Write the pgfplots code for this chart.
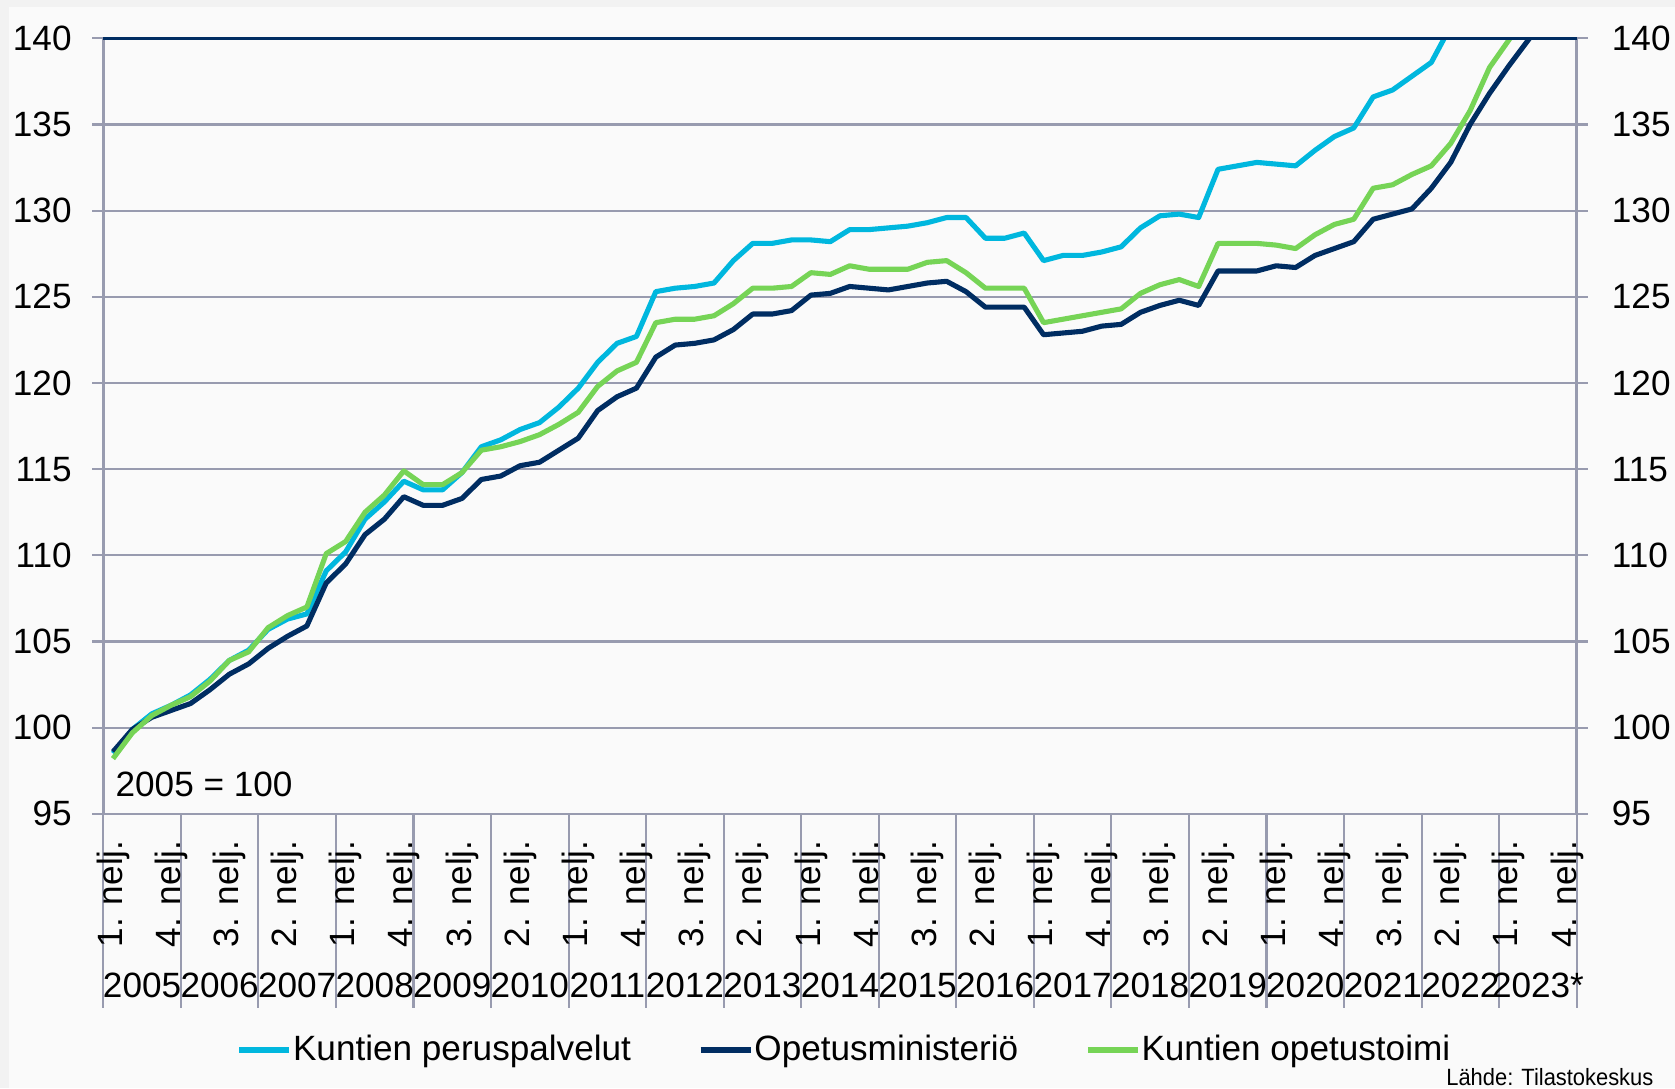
\documentclass[border=0pt]{standalone}
\usepackage{fontspec}
\setmainfont{Liberation Sans}
\usepackage{graphicx}
\usepackage{pgfplots}
\usepackage{pgfplotstable}
\pgfplotsset{compat=1.18}
\definecolor{cyanS}{RGB}{0,183,222}
\definecolor{navyS}{RGB}{0,45,98}
\definecolor{greenS}{RGB}{118,212,86}
\definecolor{gridc}{RGB}{152,155,175}
\definecolor{bgout}{RGB}{242,242,242}
\definecolor{bgin}{RGB}{250,250,250}

\pgfplotstableread{
i v
0 98.5
1 99.9
2 100.8
3 101.3
4 101.9
5 102.8
6 103.9
7 104.5
8 105.7
9 106.3
10 106.6
11 109.1
12 110.2
13 112.1
14 113.1
15 114.3
16 113.8
17 113.8
18 114.8
19 116.3
20 116.7
21 117.3
22 117.7
23 118.6
24 119.7
25 121.2
26 122.3
27 122.7
28 125.3
29 125.5
30 125.6
31 125.8
32 127.1
33 128.1
34 128.1
35 128.3
36 128.3
37 128.2
38 128.9
39 128.9
40 129.0
41 129.1
42 129.3
43 129.6
44 129.6
45 128.4
46 128.4
47 128.7
48 127.1
49 127.4
50 127.4
51 127.6
52 127.9
53 129.0
54 129.7
55 129.8
56 129.6
57 132.4
58 132.6
59 132.8
60 132.7
61 132.6
62 133.5
63 134.3
64 134.8
65 136.6
66 137.0
67 137.8
68 138.6
69 140.7
}\peru

\pgfplotstableread{
i v
0 98.6
1 99.9
2 100.6
3 101.0
4 101.4
5 102.2
6 103.1
7 103.7
8 104.6
9 105.3
10 105.9
11 108.4
12 109.5
13 111.2
14 112.1
15 113.4
16 112.9
17 112.9
18 113.3
19 114.4
20 114.6
21 115.2
22 115.4
23 116.1
24 116.8
25 118.4
26 119.2
27 119.7
28 121.5
29 122.2
30 122.3
31 122.5
32 123.1
33 124.0
34 124.0
35 124.2
36 125.1
37 125.2
38 125.6
39 125.5
40 125.4
41 125.6
42 125.8
43 125.9
44 125.3
45 124.4
46 124.4
47 124.4
48 122.8
49 122.9
50 123.0
51 123.3
52 123.4
53 124.1
54 124.5
55 124.8
56 124.5
57 126.5
58 126.5
59 126.5
60 126.8
61 126.7
62 127.4
63 127.8
64 128.2
65 129.5
66 129.8
67 130.1
68 131.3
69 132.8
70 135.0
71 136.8
72 138.4
73 139.9
74 141.4
}\opm

\pgfplotstableread{
i v
0 98.2
1 99.7
2 100.7
3 101.3
4 101.8
5 102.7
6 103.9
7 104.4
8 105.8
9 106.5
10 107.0
11 110.1
12 110.8
13 112.5
14 113.5
15 114.9
16 114.1
17 114.1
18 114.8
19 116.1
20 116.3
21 116.6
22 117.0
23 117.6
24 118.3
25 119.8
26 120.7
27 121.2
28 123.5
29 123.7
30 123.7
31 123.9
32 124.6
33 125.5
34 125.5
35 125.6
36 126.4
37 126.3
38 126.8
39 126.6
40 126.6
41 126.6
42 127.0
43 127.1
44 126.4
45 125.5
46 125.5
47 125.5
48 123.5
49 123.7
50 123.9
51 124.1
52 124.3
53 125.2
54 125.7
55 126.0
56 125.6
57 128.1
58 128.1
59 128.1
60 128.0
61 127.8
62 128.6
63 129.2
64 129.5
65 131.3
66 131.5
67 132.1
68 132.6
69 133.9
70 135.8
71 138.3
72 139.9
73 141.5
}\opet

\pgfplotsset{
  base/.style={
    at={(1.033cm,2.742cm)}, anchor=south west, scale only axis,
    width=14.734cm, height=7.755cm,
    xmin=-0.5, xmax=75.5, ymin=95, ymax=140,
    /pgf/number format/assume math mode=true,
    tick label style={font=\fontsize{10}{12}\selectfont},
  },
}

\begin{document}
\begin{tikzpicture}
\useasboundingbox (0,0) rectangle (16.75,10.88);
\fill[bgout] (0,0) rectangle (16.75,10.88);
\fill[bgin] (0.09,0) rectangle (16.75,10.81);

% main axis: data, grid, tick marks
\begin{axis}[base,
  axis line style={gridc, line width=0.7pt},
  ytick={95,100,...,140}, yticklabels={},
  ymajorgrids, grid style={gridc, line width=0.6pt},
  tick align=outside, ytick pos=both, xtick pos=bottom,
  major tick length=0.11cm, tick style={gridc, line width=0.6pt},
  xtick=\empty,
  minor xtick={-0.5,0.5,...,75.5}, minor tick length=1.31cm,
  minor tick style={gridc!80, line width=0.4pt},
  extra x ticks={-0.5,3.5,...,75.5}, extra x tick labels={},
  extra x tick style={major tick length=1.94cm, tick style={gridc, line width=0.6pt}},
  legend columns=3,
  legend style={at={(0.5027,-0.3046)}, anchor=center, draw=none, fill=none,
    font=\fontsize{10}{12}\selectfont, nodes={inner xsep=0.3pt},
    /tikz/every even column/.append style={column sep=0.66cm}},
  legend image code/.code={\draw[#1, line width=1.5pt] (0cm,0cm) -- (0.5cm,0cm);},
]
\addplot[cyanS, line width=1.45pt, line join=round] table[x=i, y=v]{\peru};
\addlegendentry{Kuntien peruspalvelut}
\addplot[navyS, line width=1.45pt, line join=round] table[x=i, y=v]{\opm};
\addlegendentry{Opetusministeriö}
\addplot[greenS, line width=1.45pt, line join=round] table[x=i, y=v]{\opet};
\addlegendentry{Kuntien opetustoimi}
\end{axis}

% quarter labels and right y labels
\begin{axis}[base,
  axis line style={draw=none}, major tick length=0, tick style={draw=none},
  xtick={0,3,...,75},
  xticklabels={1. nelj.,4. nelj.,3. nelj.,2. nelj.,1. nelj.,4. nelj.,3. nelj.,2. nelj.,1. nelj.,4. nelj.,3. nelj.,2. nelj.,1. nelj.,4. nelj.,3. nelj.,2. nelj.,1. nelj.,4. nelj.,3. nelj.,2. nelj.,1. nelj.,4. nelj.,3. nelj.,2. nelj.,1. nelj.,4. nelj.},
  xtick pos=bottom,
  xticklabel style={rotate=90, anchor=east, inner sep=0pt},
  xticklabel shift=0.26cm,
  ytick={95,100,...,140}, ytick pos=right, yticklabel pos=right,
  yticklabel style={anchor=west, inner sep=0pt},
  yticklabel shift=0.345cm,
]
\end{axis}

% year labels and left y labels
\begin{axis}[base,
  axis line style={draw=none}, major tick length=0, tick style={draw=none},
  xtick={1.5,5.5,...,73.5},
  xticklabels={2005,2006,2007,2008,2009,2010,2011,2012,2013,2014,2015,2016,2017,2018,2019,2020,2021,2022,2023*},
  xtick pos=bottom,
  xticklabel style={anchor=base, inner sep=0pt},
  xticklabel shift=1.84cm,
  ytick={95,100,...,140}, ytick pos=left,
  yticklabel style={anchor=east, inner sep=0pt},
  yticklabel shift=0.31cm,
]
\node[anchor=base west, inner sep=0pt, font=\fontsize{10}{12}\selectfont] at (rel axis cs:0.0079,0.0217) {2005 = 100};
\end{axis}

\draw[navyS, line width=0.7pt] (1.033,10.497) -- (15.767,10.497);
\node[anchor=base east, inner sep=0pt, font=\fontsize{6.7}{7}\selectfont] at (16.54,0.03) {\scalebox{0.93}[1]{Lähde: Tilastokeskus}};
\end{tikzpicture}
\end{document}
